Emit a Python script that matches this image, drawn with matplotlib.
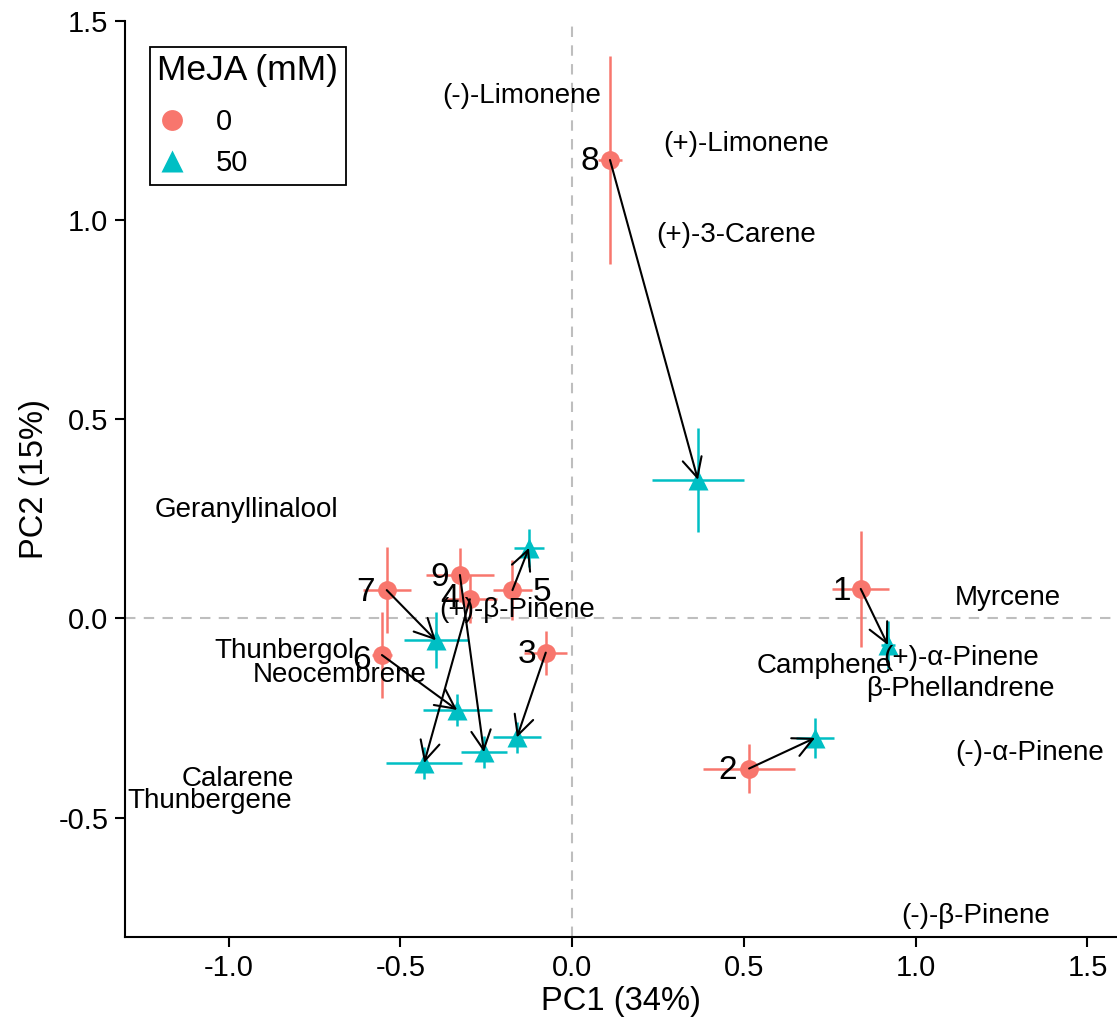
import matplotlib
matplotlib.use("Agg")
import matplotlib.pyplot as plt
from matplotlib.lines import Line2D

plt.rcParams['font.family'] = ['Liberation Sans', 'DejaVu Sans']

# ---- data ----
ids = ['1', '2', '3', '4', '5', '6', '7', '8', '9']
pc1_0 = [0.840, 0.515, -0.077, -0.298, -0.174, -0.554, -0.540, 0.110, -0.327]
pc2_0 = [0.074, -0.377, -0.086, 0.048, 0.071, -0.092, 0.071, 1.151, 0.109]
se1_0 = [0.083, 0.135, 0.063, 0.080, 0.058, 0.030, 0.070, 0.035, 0.100]
se2_0 = [0.145, 0.062, 0.055, 0.060, 0.075, 0.107, 0.108, 0.260, 0.068]

pc1_50 = [0.919, 0.707, -0.161, -0.431, -0.126, -0.335, -0.397, 0.366, -0.257]
pc2_50 = [-0.067, -0.300, -0.299, -0.363, 0.177, -0.230, -0.055, 0.348, -0.336]
se1_50 = [0.020, 0.055, 0.070, 0.110, 0.044, 0.100, 0.093, 0.134, 0.067]
se2_50 = [0.060, 0.050, 0.040, 0.040, 0.048, 0.040, 0.070, 0.130, 0.040]

# label offsets (pixels) of the sample numbers relative to MeJA 0 points
lab_dx = [-19, -21, -19, -20, 30, -20, -21, -20, -20]
lab_dy = [-3, -2, -2, 1, -2, -5, -2, -2, -3]

loading_names = ['(-)-Limonene', '(+)-Limonene', '(+)-3-Carene', 'Geranyllinalool',
                 'Myrcene', '(+)-\u03b2-Pinene', 'Thunbergol', 'Neocembrene', 'Camphene',
                 '(+)-\u03b1-Pinene', '\u03b2-Phellandrene', '(-)-\u03b1-Pinene',
                 'Calarene', 'Thunbergene', '(-)-\u03b2-Pinene']
load_x = [-0.146, 0.506, 0.477, -0.949, 1.269, -0.160, -0.838, -0.676, 0.733,
          1.133, 1.131, 1.333, -0.973, -1.054, 1.173]
load_y = [1.312, 1.192, 0.963, 0.272, 0.050, 0.021, -0.082, -0.142, -0.120,
          -0.100, -0.178, -0.337, -0.403, -0.458, -0.748]

group_labels = ['0', '50']
col0 = '#F8766D'
col50 = '#00BFC4'

W, H = 1117, 1025
fig = plt.figure(figsize=(W / 100, H / 100), dpi=100)
ax = fig.add_axes([125 / W, (H - 937) / H, (W - 125) / W, (937 - 21) / H])
ax.set_xlim(-1.302, 1.586)
ax.set_ylim(-0.80, 1.5)

ax.axhline(0, color='#BEBEBE', lw=1.5, ls=(0, (5, 4)), zorder=1)
ax.axvline(0, color='#BEBEBE', lw=1.5, ls=(0, (5, 4)), zorder=1)

ax.errorbar(pc1_0, pc2_0, xerr=se1_0, yerr=se2_0, fmt='none', ecolor=col0,
            elinewidth=1.8, capsize=0, zorder=2)
ax.errorbar(pc1_50, pc2_50, xerr=se1_50, yerr=se2_50, fmt='none', ecolor=col50,
            elinewidth=1.8, capsize=0, zorder=2)
ax.plot(pc1_0, pc2_0, 'o', color=col0, ms=13.5, mec='none', zorder=3)
ax.plot(pc1_50, pc2_50, '^', color=col50, ms=14.5, mec='none', zorder=3)

for i in range(len(ids)):
    ax.annotate('', xy=(pc1_50[i], pc2_50[i]), xytext=(pc1_0[i], pc2_0[i]),
                arrowprops=dict(arrowstyle='->,head_length=0.7,head_width=0.35',
                                color='black', lw=1.5, shrinkA=0, shrinkB=0,
                                mutation_scale=20),
                zorder=4)
    ax.annotate(ids[i], xy=(pc1_0[i], pc2_0[i]), xytext=(lab_dx[i], lab_dy[i]),
                textcoords='offset pixels', ha='center', va='center',
                fontsize=24, color='black', zorder=5)

for name, x, y in zip(loading_names, load_x, load_y):
    ax.text(x, y, name, ha='center', va='center', fontsize=20, color='black', zorder=5)

for s in ['top', 'right']:
    ax.spines[s].set_visible(False)
for s in ['left', 'bottom']:
    ax.spines[s].set_linewidth(1.5)
ax.set_xticks([-1.0, -0.5, 0.0, 0.5, 1.0, 1.5])
ax.set_yticks([-0.5, 0.0, 0.5, 1.0, 1.5])
ax.tick_params(axis='both', length=7, width=1.5, labelsize=21, colors='black', pad=5)
ax.set_xticklabels(['-1.0', '-0.5', '0.0', '0.5', '1.0', '1.5'])
ax.set_yticklabels(['-0.5', '0.0', '0.5', '1.0', '1.5'])
ax.set_xlabel('PC1 (34%)', fontsize=23.5, labelpad=3)
ax.set_ylabel('PC2 (15%)', fontsize=23.5, labelpad=6)

handles = [Line2D([], [], marker='o', ls='none', color=col0, ms=15, mec='none'),
           Line2D([], [], marker='^', ls='none', color=col50, ms=16, mec='none')]
leg = ax.legend(handles, group_labels, title='MeJA (mM)', loc='upper left',
                bbox_to_anchor=(150 / W, 1 - 47 / H), bbox_transform=fig.transFigure,
                borderaxespad=0, fontsize=21, title_fontsize=25.5, frameon=True,
                fancybox=False, edgecolor='black', framealpha=1,
                handlelength=1.0, handletextpad=1.0, labelspacing=0.45,
                borderpad=0.25, alignment='left')
leg.get_frame().set_linewidth(1.3)
leg._legend_box.sep = 15

fig.savefig('out.png', dpi=100)
